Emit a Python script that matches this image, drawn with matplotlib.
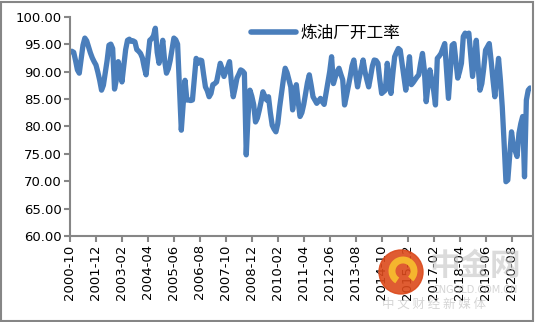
import matplotlib.pyplot as plt
import matplotlib.patches as mpatches
import pandas as pd

# monthly refinery utilization (%), Oct 2000 onwards
start_month = '2000-10'
rate = [
    93.6, 93.7, 93.5, 92.0, 90.3, 89.7, 92.3, 94.8, 96.1, 95.6, 94.5, 93.4,
    92.5, 91.8, 91.2, 89.9, 88.4, 86.6, 87.5, 89.8, 92.0, 94.8, 95.0, 94.2,
    86.8, 88.5, 91.8, 90.2, 88.1, 91.0, 94.0, 95.7, 95.9, 95.5, 95.6, 95.4,
    94.0, 93.7, 93.3, 92.5, 90.8, 89.4, 92.5, 95.7, 96.0, 96.5, 97.9, 93.5,
    91.5, 93.5, 95.7, 92.0, 89.7, 90.5, 92.0, 94.0, 96.1, 95.8, 95.0, 87.0,
    79.3, 84.0, 88.4, 84.8, 84.8, 84.7, 84.8, 88.5, 92.4, 91.5, 92.1, 92.0,
    89.5, 87.2, 86.5, 85.4, 86.0, 87.6, 87.8, 88.1, 89.8, 91.5, 90.5, 89.1,
    90.0, 90.8, 91.8, 88.0, 85.4, 87.0, 88.8, 89.5, 90.3, 90.1, 89.7, 74.8,
    82.0, 86.6, 85.5, 84.0, 80.8, 81.5, 82.9, 84.5, 86.3, 85.5, 84.8, 85.4,
    82.5, 80.2, 79.5, 79.0, 80.5, 83.5, 86.0, 88.5, 90.6, 89.8, 88.5, 87.2,
    83.0, 85.5, 87.6, 84.5, 81.8, 82.5, 84.0, 86.0, 88.0, 89.4, 87.5, 85.4,
    84.8, 84.2, 84.6, 85.1, 84.5, 84.0, 86.0, 88.0, 90.0, 92.7, 87.8, 89.0,
    90.0, 90.6, 89.5, 88.5, 83.9, 85.5, 87.2, 89.0, 91.0, 92.1, 89.5, 87.2,
    89.0, 90.5, 92.1, 90.0, 88.5, 87.2, 89.0, 91.0, 92.1, 92.0, 91.5, 88.5,
    86.0, 86.3, 86.6, 91.5, 89.0, 86.0, 89.5, 92.7, 93.5, 94.2, 93.9, 91.5,
    89.0, 86.6, 89.5, 92.7, 87.6, 88.0, 88.5, 89.0, 89.4, 91.5, 93.3, 90.3,
    84.5, 87.5, 90.3, 88.5, 86.6, 83.9, 92.4, 92.8, 93.3, 94.2, 95.1, 90.0,
    85.1, 90.0, 94.8, 95.1, 92.0, 88.8, 90.0, 91.5, 96.4, 97.0, 96.5, 97.0,
    93.0, 89.1, 92.5, 95.7, 91.0, 86.6, 87.8, 90.5, 93.9, 94.5, 95.1, 92.0,
    88.5, 85.4, 89.0, 92.4, 88.5, 83.6, 77.0, 69.9, 70.2, 74.5, 79.0, 76.5,
    75.5, 74.5, 78.7, 80.5, 81.8, 70.8, 84.8, 86.6, 87.0,
]
label_step = 14
series_name = '炼油厂开工率'

months = pd.date_range(start_month, periods=len(rate), freq='MS').strftime('%Y-%m')
x = list(range(len(rate)))

W, H = 535, 322
fig = plt.figure(figsize=(W / 100, H / 100), dpi=100)
ax = fig.add_axes([70 / W, 1 - 236 / H, 461 / W, (236 - 16.7) / H])

line_color = '#4a7ebb'
axis_gray = '#868686'

ax.plot(x, rate, color=line_color, lw=3.8, solid_joinstyle='round',
        solid_capstyle='round', label=series_name)

ax.set_xlim(0, len(rate) - 0.5)
ax.set_ylim(60, 100)
ax.set_yticks(range(60, 101, 5))
ax.set_yticklabels([f'{v:.2f}' for v in range(60, 101, 5)], fontsize=9.5)
ticks = x[::label_step]
ax.set_xticks(ticks)
ax.set_xticklabels([months[i] for i in ticks], rotation=90, fontsize=9.5,
                   va='top', ha='center')

for side in ['top', 'right']:
    ax.spines[side].set_visible(False)
for side in ['left', 'bottom']:
    ax.spines[side].set_color(axis_gray)
    ax.spines[side].set_linewidth(1.5)
ax.tick_params(axis='both', direction='out', length=4, width=1.5,
               color=axis_gray, pad=2)

leg = ax.legend(loc='center left', bbox_to_anchor=(251 / W, 1 - 33 / H),
                bbox_transform=fig.transFigure, frameon=False,
                handlelength=2.7, handletextpad=0.25, borderpad=0,
                borderaxespad=0, prop={'family': ['Noto Sans CJK SC', 'DejaVu Sans'],
                                       'size': 12})
for h in leg.get_lines():
    h.set_linewidth(4)

# watermark (sits over the tick labels, as in the source image)
cx, cy = 401 / W, 1 - 272 / H
logo = mpatches.Ellipse((cx, cy), 44 / W, 44 / H, transform=fig.transFigure,
                        color='#dc4a1c', alpha=0.9, zorder=5)
fig.patches.append(logo)
swirl = mpatches.Arc((cx + 2 / W, cy + 1 / H), 22 / W, 22 / H, theta1=-60, theta2=250,
                     transform=fig.transFigure, color='#f5b62e', lw=5, zorder=6)
fig.patches.append(swirl)
fig.text(475 / W, 1 - 266 / H, '中金网', fontsize=22, fontweight='bold',
         color='#c4c4c4', alpha=0.6, ha='center', va='center',
         family=['Noto Sans CJK SC', 'DejaVu Sans'])
fig.text(475 / W, 1 - 290 / H, 'CNGOLD.COM.CN', fontsize=7, color='#c4c4c4',
         alpha=0.7, ha='center', va='center')
fig.text(434 / W, 1 - 304 / H, '中 文 财 经 新 媒 体', fontsize=9, color='#c4c4c4',
         alpha=0.7, ha='center', va='center',
         family=['Noto Sans CJK SC', 'DejaVu Sans'])

# chart border
fig.patches.append(mpatches.Rectangle((1 / W, 1 / H), (W - 3) / W, (H - 3) / H,
                                      transform=fig.transFigure, fill=False,
                                      edgecolor=axis_gray, lw=1.5))

fig.savefig('out.png', dpi=100)
plt.close(fig)
